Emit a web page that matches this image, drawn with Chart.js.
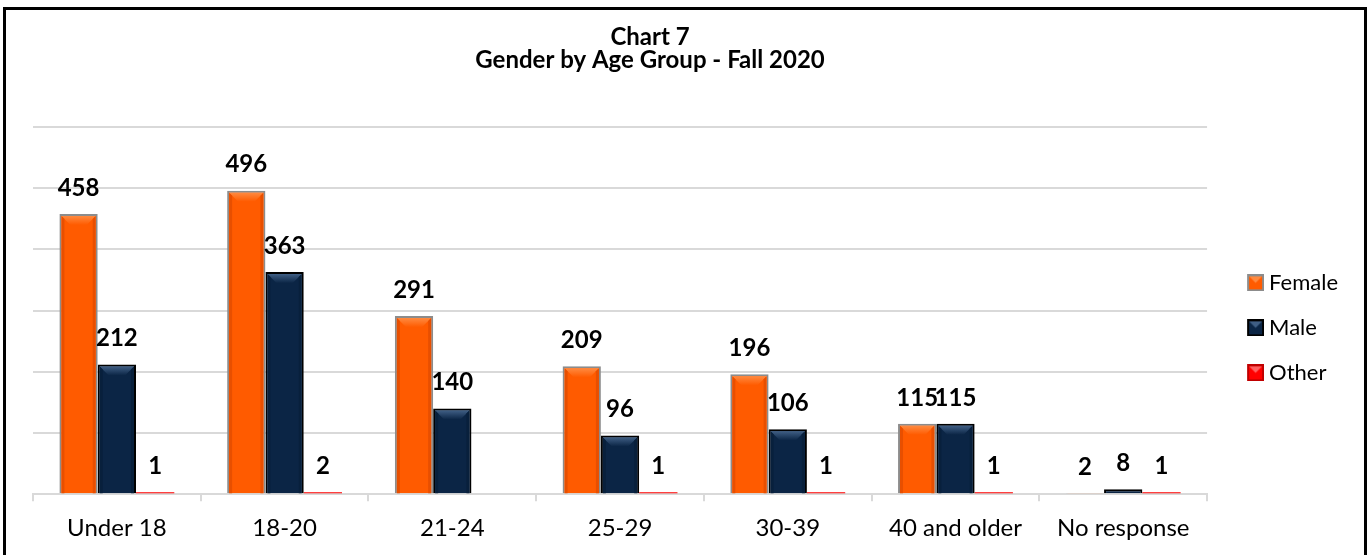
<!DOCTYPE html>
<html><head><meta charset="utf-8">
<script src="https://cdn.jsdelivr.net/npm/chart.js@4.4.1/dist/chart.umd.min.js"></script>
<style>
html,body{margin:0;padding:0;background:#fff;overflow:hidden;width:1369px;height:555px}
#frame{position:absolute;left:3px;top:7px;width:1364px;height:560px;border:3px solid #000;box-sizing:border-box;background:#fff}
#c{display:block}
</style></head><body>
<div id="frame"><canvas id="c" width="1358" height="554"></canvas></div>
<script>
const categories = ['Under 18','18-20','21-24','25-29','30-39','40 and older','No response'];
const female = [458,496,291,209,196,115,2];
const male   = [212,363,140,96,106,115,8];
const other  = [1,2,null,1,1,1,1];
const seriesNames = ['Female','Male','Other'];
const titleLines = ['Chart 7','Gender by Age Group - Fall 2020'];
const yMin = 0, yMax = 600, yStep = 100;

const FONT = 'Lato';
const styles = [
  {fill:'#FF5B00', border:'#8C8C8C', bw:2, bevel:'#FF8A40', side:'#E84F00'},
  {fill:'#0B2545', border:'#000000', bw:2, bevel:'#3F5E84', side:'#08203C'},
  {fill:'#FF0000', border:'#FF0000', bw:0, bevel:'#FF6060', side:'#D00000'}
];

const LEG_PAD = 23, LEG_W = 28, ICON_OFF = 23;
function makeIcon(s){
  const c = document.createElement('canvas');
  c.width = 40; c.height = 17;
  const g = c.getContext('2d');
  const x0 = ICON_OFF, w = 17, h = 17;
  g.fillStyle = s.border === s.fill ? '#C00000' : s.border;
  g.fillRect(x0,0,w,h);
  g.fillStyle = s.fill;
  g.fillRect(x0+2,2,w-4,h-4);
  g.fillStyle = s.bevel;
  g.beginPath();
  g.moveTo(x0+2,2); g.lineTo(x0+w-2,2); g.lineTo(x0+w/2,h/2); g.closePath(); g.fill();
  return c;
}
const icons = styles.map(makeIcon);

const datasets = [female, male, other].map((d,i)=>({
  label: seriesNames[i],
  data: d,
  backgroundColor: styles[i].fill,
  borderColor: styles[i].border,
  borderWidth: styles[i].bw,
  borderSkipped: 'start',
  minBarLength: i===2 ? 2 : 0,
  categoryPercentage: 0.685,
  barPercentage: 1.0,
  bevelStyle: styles[i]
}));

const bevelPlugin = {
  id:'bevel',
  afterDatasetsDraw(chart){
    const ctx = chart.ctx;
    chart.data.datasets.forEach((ds,di)=>{
      const meta = chart.getDatasetMeta(di);
      const s = ds.bevelStyle;
      meta.data.forEach((el,j)=>{
        if (ds.data[j] == null) return;
        const p = el.getProps(['x','y','base','width'], true);
        const hgt = p.base - p.y;
        if (hgt < 6) return;
        const bw = s.bw;
        const l = p.x - p.width/2 + bw, r = p.x + p.width/2 - bw, t = p.y + bw;
        const d = Math.min(9, (hgt-bw)/2, (r-l)/2);
        ctx.save();
        const grd = ctx.createLinearGradient(0,t,0,t+d);
        grd.addColorStop(0, s.bevel);
        grd.addColorStop(1, s.fill);
        ctx.fillStyle = grd;
        ctx.beginPath();
        ctx.moveTo(l,t); ctx.lineTo(r,t); ctx.lineTo(r-d,t+d); ctx.lineTo(l+d,t+d); ctx.closePath();
        ctx.fill();
        ctx.fillStyle = s.side;
        ctx.beginPath();
        ctx.moveTo(l,t); ctx.lineTo(l+3,t+3); ctx.lineTo(l+3,p.base); ctx.lineTo(l,p.base); ctx.closePath(); ctx.fill();
        ctx.beginPath();
        ctx.moveTo(r,t); ctx.lineTo(r-3,t+3); ctx.lineTo(r-3,p.base); ctx.lineTo(r,p.base); ctx.closePath(); ctx.fill();
        ctx.restore();
      });
    });
  }
};

const labelPlugin = {
  id:'valueLabels',
  afterDatasetsDraw(chart){
    const ctx = chart.ctx;
    ctx.save();
    ctx.font = 'bold 24px ' + FONT;
    ctx.fillStyle = '#000';
    ctx.textAlign = 'center';
    ctx.textBaseline = 'middle';
    chart.data.datasets.forEach((ds,di)=>{
      const meta = chart.getDatasetMeta(di);
      meta.data.forEach((el,j)=>{
        const v = ds.data[j];
        if (v == null) return;
        const p = el.getProps(['x','y'], true);
        ctx.fillText(String(v), p.x, p.y - 26);
      });
    });
    ctx.restore();
  }
};

const titleShift = {
  id:'titleShift',
  afterLayout(chart){
    const t = chart.titleBlock;
    if (t) { t.left += 60; }
  }
};

new Chart(document.getElementById('c'), {
  type:'bar',
  data:{ labels: categories, datasets },
  options:{
    responsive:false,
    animation:false,
    layout:{ padding:{ left:27, right:16, top:0, bottom:9 } },
    plugins:{
      title:{
        display:true, text:titleLines, fullSize:false,
        color:'#000',
        font:{ family:FONT, size:24, weight:'bold', lineHeight:'23px' },
        padding:{ top:15.5, bottom:55.5 }
      },
      legend:{
        display:true, position:'right', fullSize:false, align:'center',
        title:{ display:true, text:' ', font:{size:1, lineHeight:'1px'}, padding:{top:33.5, bottom:0} },
        labels:{
          usePointStyle:true, pointStyleWidth:LEG_W, padding:LEG_PAD,
          color:'#000',
          font:{ family:FONT, size:22 },
          generateLabels(chart){
            const items = Chart.defaults.plugins.legend.labels.generateLabels(chart);
            items.forEach((it,i)=>{ it.pointStyle = icons[i]; });
            return items;
          }
        }
      },
      tooltip:{ enabled:false }
    },
    scales:{
      x:{
        offset:true,
        grid:{ display:true, drawOnChartArea:false, drawTicks:true, tickLength:7, color:'#D9D9D9', lineWidth:2, offset:true },
        border:{ display:true, color:'#D9D9D9', width:2 },
        ticks:{ color:'#000', font:{ family:FONT, size:24 }, padding:12.5 }
      },
      y:{
        min:yMin, max:yMax,
        grid:{ color:'#D9D9D9', lineWidth:2, drawTicks:false },
        border:{ display:false },
        ticks:{ display:false, stepSize:yStep }
      }
    }
  },
  plugins:[bevelPlugin, labelPlugin, titleShift]
});
</script>
</body></html>
